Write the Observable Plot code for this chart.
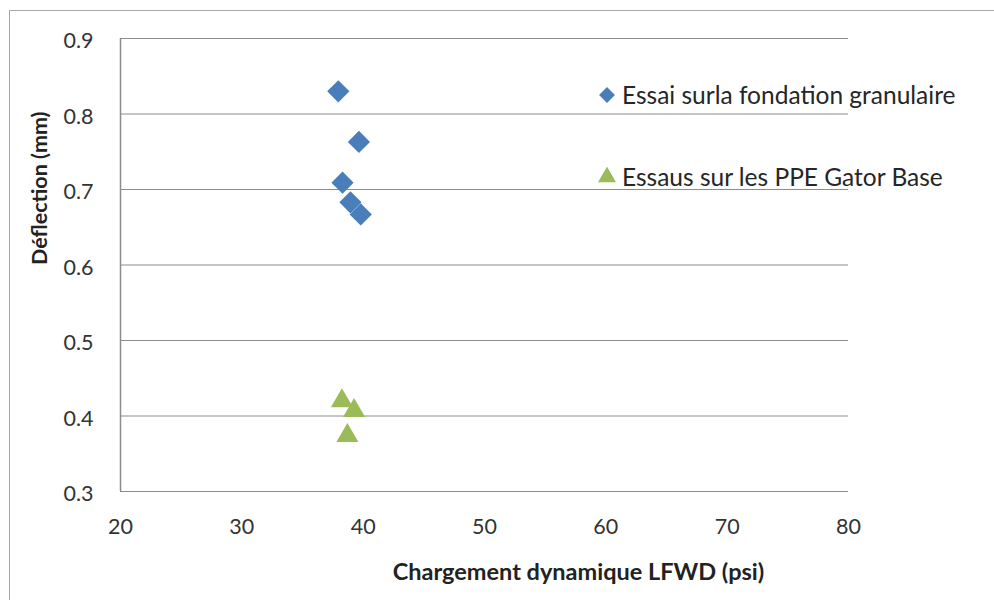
<!DOCTYPE html>
<html>
<head>
<meta charset="utf-8">
<script src="https://cdn.jsdelivr.net/npm/d3@7"></script>
<script src="https://cdn.jsdelivr.net/npm/@observablehq/plot@0.6"></script>
<style>
  html, body { margin: 0; padding: 0; background: #fff; }
  #wrap { position: relative; width: 994px; height: 600px; overflow: hidden; font-family: Lato, "Open Sans", sans-serif; }
  #frame { position: absolute; left: 9px; top: 10px; width: 1000px; height: 700px; border-top: 1.5px solid #a8a8a8; border-left: 1.5px solid #a8a8a8; pointer-events: none; }
  .leg { position: absolute; left: 597px; display: flex; align-items: center; font-size: 24.5px; line-height: 30px; color: #262626; white-space: nowrap; }
  .leg svg { margin-right: 5px; }
</style>
</head>
<body>
<div id="wrap">
  <div id="chart"></div>
  <div id="frame"></div>
  <div class="leg" id="leg1" style="top:80px"></div>
  <div class="leg" id="leg2" style="top:162px"></div>
</div>
<script>
const seriesNames = ["Essai surla fondation granulaire", "Essaus sur les PPE Gator Base"];
const granX = [37.95, 39.65, 38.3, 38.95, 39.8];
const granY = [0.830, 0.763, 0.709, 0.683, 0.667];
const gatorX = [38.25, 39.25, 38.7];
const gatorY = [0.420, 0.407, 0.374];
const xTicks = [20, 30, 40, 50, 60, 70, 80];
const yTicks = [0.3, 0.4, 0.5, 0.6, 0.7, 0.8, 0.9];
const xTitle = "Chargement dynamique LFWD (psi)";
const yTitle = "Déflection (mm)";
const colors = ["#4a7ebb", "#9bbb59"];

const gran = granX.map((x, i) => ({x, y: granY[i]}));
const gator = gatorX.map((x, i) => ({x, y: gatorY[i]}));

const chart = Plot.plot({
  width: 994,
  height: 600,
  marginLeft: 120,
  marginRight: 146,
  marginTop: 38,
  marginBottom: 109,
  style: {fontFamily: "Lato, 'Open Sans', sans-serif", background: "transparent"},
  x: {domain: [20, 80]},
  y: {domain: [0.3, 0.9]},
  marks: [
    Plot.gridY(yTicks, {stroke: "#8c8c8c", strokeOpacity: 1, strokeWidth: 1.2}),
    Plot.ruleX([20], {stroke: "#8c8c8c", strokeWidth: 1.5}),
    Plot.axisY(yTicks, {tickSize: 0, tickPadding: 27, dy: 3, tickFormat: d => d.toFixed(1), fontSize: 21.5, fill: "#333", label: null}),
    Plot.axisX(xTicks, {tickSize: 0, tickPadding: 27, tickFormat: d => String(d), fontSize: 21.5, fill: "#333", label: null}),
    Plot.text([yTitle], {frameAnchor: "left", dx: -80, rotate: -90, fontSize: 21.5, fontWeight: "bold", fill: "#222"}),
    Plot.text([xTitle], {frameAnchor: "bottom", dx: 94, dy: 88, fontSize: 23.5, fontWeight: "bold", fill: "#222"}),
    Plot.dot(gran, {x: "x", y: "y", symbol: "diamond2", r: 10, fill: colors[0], stroke: "none"}),
    Plot.dot(gator, {x: "x", y: "y", symbol: "triangle", r: 8.2, fill: colors[1], stroke: "none"})
  ]
});
document.getElementById("chart").appendChild(chart);

function legendSymbol(type, color) {
  const s = d3.create("svg").attr("width", 20).attr("height", 20);
  const sym = type === "diamond" ? d3.symbolDiamond2 : d3.symbolTriangle;
  s.append("path").attr("transform", "translate(10,10)").attr("fill", color)
    .attr("d", d3.symbol(sym, type === "diamond" ? 160 : 140)());
  return s.node();
}
const l1 = document.getElementById("leg1");
l1.appendChild(legendSymbol("diamond", colors[0]));
l1.appendChild(document.createTextNode(seriesNames[0]));
const l2 = document.getElementById("leg2");
l2.appendChild(legendSymbol("triangle", colors[1]));
l2.appendChild(document.createTextNode(seriesNames[1]));
</script>
</body>
</html>
